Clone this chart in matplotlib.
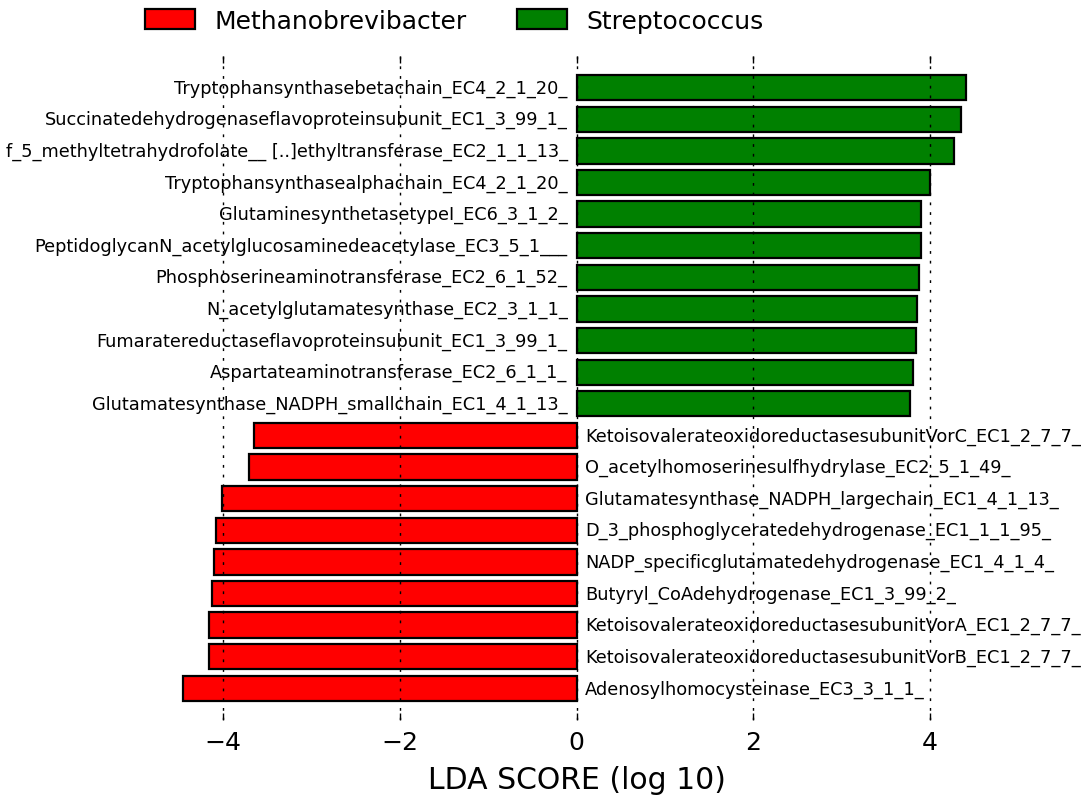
import matplotlib
matplotlib.use("Agg")
import matplotlib.pyplot as plt
from matplotlib.patches import Patch

# Features, top to bottom, with their class and LDA score (log10)
features = [
    "Tryptophansynthasebetachain_EC4_2_1_20_",
    "Succinatedehydrogenaseflavoproteinsubunit_EC1_3_99_1_",
    "f_5_methyltetrahydrofolate__ [..]ethyltransferase_EC2_1_1_13_",
    "Tryptophansynthasealphachain_EC4_2_1_20_",
    "GlutaminesynthetasetypeI_EC6_3_1_2_",
    "PeptidoglycanN_acetylglucosaminedeacetylase_EC3_5_1___",
    "Phosphoserineaminotransferase_EC2_6_1_52_",
    "N_acetylglutamatesynthase_EC2_3_1_1_",
    "Fumaratereductaseflavoproteinsubunit_EC1_3_99_1_",
    "Aspartateaminotransferase_EC2_6_1_1_",
    "Glutamatesynthase_NADPH_smallchain_EC1_4_1_13_",
    "KetoisovalerateoxidoreductasesubunitVorC_EC1_2_7_7_",
    "O_acetylhomoserinesulfhydrylase_EC2_5_1_49_",
    "Glutamatesynthase_NADPH_largechain_EC1_4_1_13_",
    "D_3_phosphoglyceratedehydrogenase_EC1_1_1_95_",
    "NADP_specificglutamatedehydrogenase_EC1_4_1_4_",
    "Butyryl_CoAdehydrogenase_EC1_3_99_2_",
    "KetoisovalerateoxidoreductasesubunitVorA_EC1_2_7_7_",
    "KetoisovalerateoxidoreductasesubunitVorB_EC1_2_7_7_",
    "Adenosylhomocysteinase_EC3_3_1_1_",
]
lda_scores = [
    4.41, 4.35, 4.27, 4.00, 3.90, 3.90, 3.88, 3.85, 3.84, 3.81, 3.77,
    -3.65, -3.71, -4.01, -4.08, -4.10, -4.12, -4.16, -4.16, -4.45,
]
classes = ["Methanobrevibacter", "Streptococcus"]
class_colors = ["#ff0000", "#008000"]

fig = plt.figure(figsize=(10.81, 8.04), dpi=100)
ax = fig.add_axes([134.5 / 1081, 1 - 721 / 804, 884 / 1081, 664 / 804], frame_on=False)

n = len(features)
positions = list(range(n - 1, -1, -1))
colors = [class_colors[0] if v < 0 else class_colors[1] for v in lda_scores]

ax.barh(positions, lda_scores, height=0.8, align="center", color=colors,
        edgecolor="black", linewidth=1.6, zorder=1)

for pos, name, val in zip(positions, features, lda_scores):
    if val < 0:
        ax.text(0.1, pos, name, ha="left", va="center", fontsize=12.8, zorder=3)
    else:
        ax.text(-0.1, pos, name, ha="right", va="center", fontsize=12.8, zorder=3)

ax.set_xlim(-5, 5)
ax.set_ylim(-1, n)
ax.set_xticks([-4, -2, 0, 2, 4])
ax.set_xticklabels(["\u22124", "\u22122", "0", "2", "4"])
ax.set_yticks([])
ax.tick_params(axis="x", which="major", direction="in", top=True, bottom=True,
               length=5, width=1, labelsize=18, pad=7, color="black")
ax.set_axisbelow(False)
ax.xaxis.grid(True, color="black", linewidth=1.0, linestyle=(0, (2, 5)), zorder=2)
ax.set_xlabel("LDA SCORE (log 10)", fontsize=21.5, labelpad=8)

handles = [Patch(facecolor=c, edgecolor="black", linewidth=1.6) for c in class_colors]
ax.legend(handles, classes, bbox_to_anchor=(0.0, 1.02, 1.0, 0.102), loc=3, ncol=2,
          borderaxespad=0.0, frameon=False, fontsize=18, handlelength=2.0,
          handleheight=0.9, handletextpad=0.8, columnspacing=2.0)

fig.savefig("out.png", dpi=100, facecolor="white")
